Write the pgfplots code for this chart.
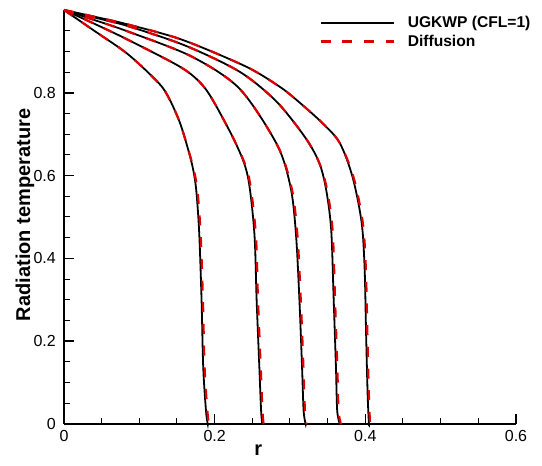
\documentclass[border=0pt]{standalone}
\usepackage{fontspec}
\setmainfont{Liberation Sans}
\usepackage{pgfplots}
\usepackage{pgfplotstable}
\pgfplotsset{compat=1.18}
\definecolor{diffred}{RGB}{220,0,0}

% UGKWP (CFL=1) profiles at five times: r, T
\pgfplotstableread{
r T
0 1.000
0.040 0.950
0.085 0.893
0.126 0.823
0.1396 0.786
0.153 0.732
0.162 0.681
0.1706 0.622
0.1755 0.566
0.1795 0.461
0.1826 0.300
0.1848 0.138
0.1884 0.034
0.1906 0.002
0.191 0
}\ugkA
\pgfplotstableread{
r T
0 1.000
0.040 0.967
0.085 0.928
0.153 0.864
0.1795 0.827
0.197 0.784
0.228 0.678
0.244 0.598
0.2527 0.461
0.2557 0.300
0.2593 0.138
0.2616 0.034
0.263 0.002
0.2632 0
}\ugkB
\pgfplotstableread{
r T
0 1.000
0.040 0.976
0.085 0.948
0.169 0.888
0.233 0.810
0.283 0.674
0.301 0.570
0.308 0.457
0.3125 0.300
0.316 0.138
0.318 0.034
0.3205 0.002
0.321 0
}\ugkC
\pgfplotstableread{
r T
0 1.000
0.040 0.982
0.085 0.961
0.161 0.914
0.233 0.851
0.282 0.779
0.321 0.690
0.339 0.630
0.348 0.566
0.3547 0.469
0.358 0.300
0.361 0.138
0.3626 0.034
0.3657 0.002
0.366 0
}\ugkD
\pgfplotstableread{
r T
0 1.000
0.040 0.984
0.085 0.965
0.157 0.928
0.242 0.863
0.286 0.815
0.3085 0.783
0.343 0.727
0.366 0.679
0.383 0.597
0.395 0.488
0.399 0.379
0.401 0.220
0.403 0.075
0.4047 0.002
0.405 0
}\ugkE

% Diffusion solution at the same times
\pgfplotstableread{
r T
0 1.000
0.040 0.950
0.085 0.893
0.126 0.823
0.1396 0.786
0.153 0.732
0.162 0.681
0.1712 0.622
0.1770 0.566
0.1813 0.461
0.1844 0.300
0.1866 0.138
0.1902 0.034
0.1922 0.002
0.1925 0
}\difA
\pgfplotstableread{
r T
0 1.000
0.040 0.967
0.085 0.928
0.153 0.864
0.1795 0.827
0.197 0.784
0.228 0.678
0.2452 0.598
0.2545 0.461
0.2575 0.300
0.2611 0.138
0.2634 0.034
0.2648 0.002
0.265 0
}\difB
\pgfplotstableread{
r T
0 1.000
0.040 0.976
0.085 0.948
0.169 0.888
0.233 0.810
0.283 0.674
0.3022 0.570
0.3098 0.457
0.3143 0.300
0.3178 0.138
0.3198 0.034
0.3218 0.002
0.322 0
}\difC
\pgfplotstableread{
r T
0 1.000
0.040 0.982
0.085 0.961
0.161 0.914
0.233 0.851
0.282 0.779
0.321 0.690
0.339 0.630
0.3492 0.566
0.3565 0.469
0.3598 0.300
0.3628 0.138
0.3644 0.034
0.3672 0.002
0.3675 0
}\difD
\pgfplotstableread{
r T
0 1.000
0.040 0.984
0.085 0.965
0.157 0.928
0.242 0.863
0.286 0.815
0.3085 0.783
0.343 0.727
0.366 0.679
0.3842 0.597
0.3965 0.488
0.4006 0.379
0.4027 0.220
0.4046 0.075
0.4062 0.002
0.4065 0
}\difE

\begin{document}
\begin{tikzpicture}[x=1pt,y=1pt]
\path[use as bounding box] (-64,-42) rectangle (478,424);
\begin{axis}[
  at={(0,0)}, anchor=south west,
  scale only axis, width=452pt, height=414pt,
  xmin=0, xmax=0.6, ymin=0, ymax=1,
  axis x line*=bottom, axis y line*=left,
  axis line style={line width=2.2pt, -},
  xtick={0,0.2,0.4,0.6}, ytick={0,0.2,0.4,0.6,0.8},
  minor xtick={0.05,0.1,0.15,0.25,0.3,0.35,0.45,0.5,0.55},
  minor ytick={0.05,0.1,0.15,0.25,0.3,0.35,0.45,0.5,0.55,0.65,0.7,0.75,0.85,0.9,0.95},
  tick align=inside,
  major tick length=10pt, minor tick length=6pt,
  major tick style={line width=1.6pt, black},
  minor tick style={line width=1pt, black},
  /pgf/number format/assume math mode=true,
  tick label style={font=\fontsize{16}{16}\selectfont, inner sep=0pt},
  xticklabel style={anchor=north, yshift=-6pt},
  yticklabel style={anchor=east, xshift=-8pt},
  xlabel={r}, ylabel={Radiation temperature},
  label style={font=\bfseries\fontsize{20}{20}\selectfont},
  xlabel style={at={(axis description cs:0.43,0)}, anchor=center, yshift=-26pt},
  ylabel style={at={(axis description cs:0,0.505)}, anchor=center, yshift=39pt},
  legend cell align=left,
  legend style={draw=none, fill=none, at={(axis description cs:0.565,0.99)}, anchor=north west,
    font=\bfseries\fontsize{15.6}{18}\selectfont, row sep=2pt, column sep=11pt, inner sep=0pt},
  legend image code/.code={\draw[#1] (0pt,0pt) -- (73pt,0pt);},
  clip=false,
]
\addplot[black, line width=1.8pt, smooth, tension=0.5] table[x=r,y=T] {\ugkA};
\addlegendentry{UGKWP (CFL=1)}
\addplot[diffred, line width=2.2pt, dash pattern=on 10pt off 11.7pt, smooth, tension=0.5] table[x=r,y=T] {\difA};
\addlegendentry{Diffusion}
\addplot[black, line width=1.8pt, smooth, tension=0.5, forget plot] table[x=r,y=T] {\ugkB};
\addplot[black, line width=1.8pt, smooth, tension=0.5, forget plot] table[x=r,y=T] {\ugkC};
\addplot[black, line width=1.8pt, smooth, tension=0.5, forget plot] table[x=r,y=T] {\ugkD};
\addplot[black, line width=1.8pt, smooth, tension=0.5, forget plot] table[x=r,y=T] {\ugkE};
\addplot[diffred, line width=2.2pt, dash pattern=on 10pt off 11.7pt, smooth, tension=0.5, forget plot] table[x=r,y=T] {\difB};
\addplot[diffred, line width=2.2pt, dash pattern=on 10pt off 11.7pt, smooth, tension=0.5, forget plot] table[x=r,y=T] {\difC};
\addplot[diffred, line width=2.2pt, dash pattern=on 10pt off 11.7pt, smooth, tension=0.5, forget plot] table[x=r,y=T] {\difD};
\addplot[diffred, line width=2.2pt, dash pattern=on 10pt off 11.7pt, smooth, tension=0.5, forget plot] table[x=r,y=T] {\difE};
\end{axis}
\end{tikzpicture}
\end{document}
